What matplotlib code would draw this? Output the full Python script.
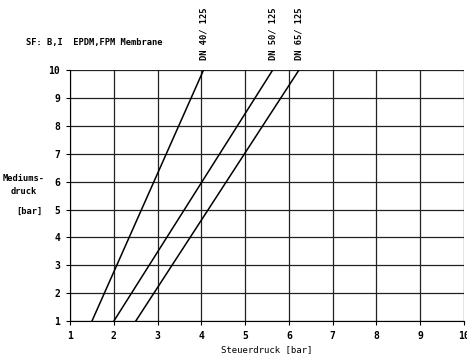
import matplotlib
matplotlib.use("Agg")
import matplotlib.pyplot as plt

# line end points (Steuerdruck, Mediumsdruck)
labels = ["DN 40/ 125", "DN 50/ 125", "DN 65/ 125"]
x_start = [1.5, 2.0, 2.5]
x_end = [4.05, 5.63, 6.23]
y_start = [1, 1, 1]
y_end = [10, 10, 10]
ticks = [1, 2, 3, 4, 5, 6, 7, 8, 9, 10]

plt.rcParams['font.family'] = ['DejaVu Sans Mono']
plt.rcParams['font.size'] = 7
plt.rcParams['font.weight'] = 'bold'

fig = plt.figure(figsize=(4.67, 3.56), dpi=100)
ax = fig.add_axes([0.150, 0.098, 0.8436, 0.7054])

for lab, xs, xe, ys, ye in zip(labels, x_start, x_end, y_start, y_end):
    ax.plot([xs, xe], [ys, ye], color='black', lw=1.1)
    ax.text(xe, 10.35, lab, rotation=90, ha='center', va='bottom', fontsize=6.3)

ax.set_xlim(1, 10)
ax.set_ylim(1, 10)
ax.set_xticks(ticks)
ax.set_yticks(ticks)
ax.grid(True, color='#222222', lw=0.9)
for s in ['top', 'right']:
    ax.spines[s].set_visible(False)
ax.tick_params(length=3, width=0.8, pad=4, labelsize=7)

ax.set_xlabel("Steuerdruck [bar]", fontsize=6.5, labelpad=3)
fig.text(0.05, 0.48, "Mediums-\ndruck", ha='center', va='center', fontsize=6.3,
         linespacing=1.5)
fig.text(0.062, 0.405, "[bar]", ha='center', va='center', fontsize=6.3)
fig.text(0.055, 0.88, "SF: B,I  EPDM,FPM Membrane", ha='left', va='center', fontsize=6.3)

fig.savefig("out.png", dpi=100)
